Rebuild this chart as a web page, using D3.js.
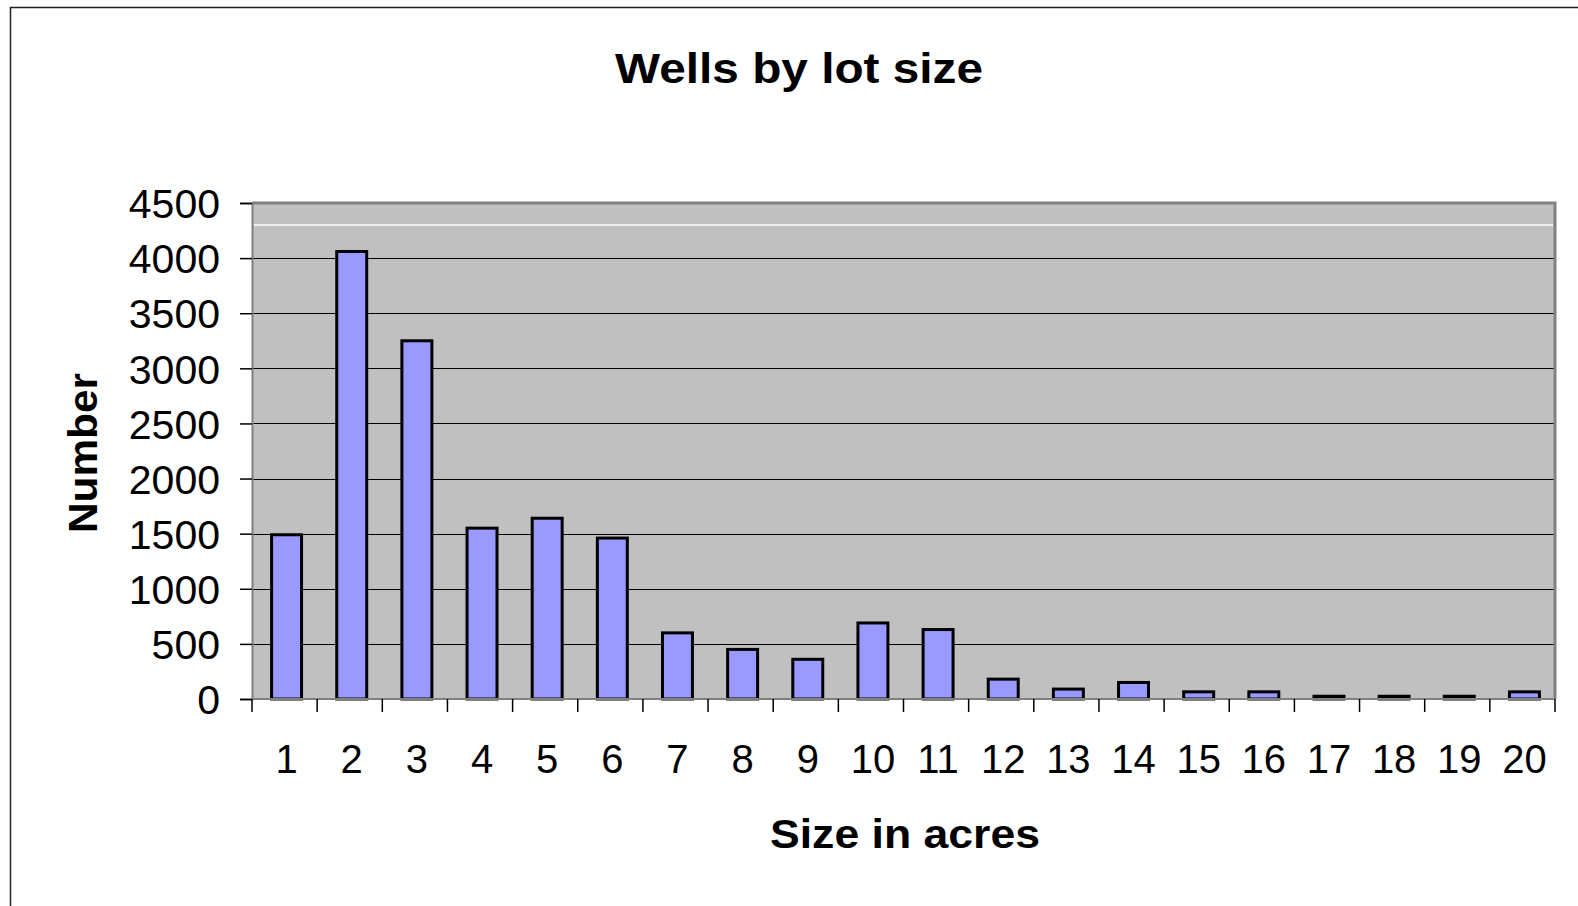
<!DOCTYPE html>
<html>
<head>
<meta charset="utf-8">
<script src="https://cdn.jsdelivr.net/npm/d3@7"></script>
<style>
  body { margin: 0; background: #fff; }
  svg { display: block; font-family: "Liberation Sans", Arial, sans-serif; }
</style>
</head>
<body>
<div id="chart"></div>
<script>
// lot sizes (acres) and number of wells
const sizes = ["1", "2", "3", "4", "5", "6", "7", "8", "9", "10",
               "11", "12", "13", "14", "15", "16", "17", "18", "19", "20"];
const wells = [1490, 4060, 3250, 1550, 1640, 1460, 600, 450, 360, 690,
               630, 180, 90, 150, 65, 65, 25, 25, 25, 65];
const yTicks = [0, 500, 1000, 1500, 2000, 2500, 3000, 3500, 4000, 4500];
const whiteLine = 4300;

const width = 1578;
const height = 906;
const plotLeft = 252, plotRight = 1555, plotTop = 203, plotBottom = 699;

const svg = d3.select("#chart").append("svg")
    .attr("width", width)
    .attr("height", height);

// outer frame (right and bottom run off the page)
svg.append("path")
    .attr("d", `M10.5,${height} V7.5 H${width}`)
    .attr("fill", "none")
    .attr("stroke", "#222")
    .attr("stroke-width", 1.5);

const x = d3.scaleBand()
    .domain(sizes)
    .range([plotLeft, plotRight])
    .paddingInner(0.54)
    .paddingOuter(0.27);

const y = d3.scaleLinear()
    .domain([0, 4500])
    .range([plotBottom, plotTop]);

// plot area
svg.append("rect")
    .attr("x", plotLeft)
    .attr("y", plotTop)
    .attr("width", plotRight - plotLeft)
    .attr("height", plotBottom - plotTop)
    .attr("fill", "#c0c0c0");

// gridlines
svg.append("g")
    .selectAll("line")
    .data(yTicks.filter(d => d > 0 && d < 4500))
    .enter().append("line")
    .attr("x1", plotLeft)
    .attr("x2", plotRight)
    .attr("y1", d => Math.round(y(d)) + 0.5)
    .attr("y2", d => Math.round(y(d)) + 0.5)
    .attr("stroke", "#000")
    .attr("stroke-width", 1);

svg.append("line")
    .attr("x1", plotLeft + 2)
    .attr("x2", plotRight - 2)
    .attr("y1", y(whiteLine))
    .attr("y2", y(whiteLine))
    .attr("stroke", "#fff")
    .attr("stroke-width", 1.5);

// plot border top / right
svg.append("path")
    .attr("d", `M${plotLeft},${plotTop} H${plotRight} V${plotBottom}`)
    .attr("fill", "none")
    .attr("stroke", "#808080")
    .attr("stroke-width", 3);

// bars
svg.append("g")
    .selectAll("rect")
    .data(wells)
    .enter().append("rect")
    .attr("x", (d, i) => x(sizes[i]) + 2)
    .attr("y", d => y(d))
    .attr("width", x.bandwidth())
    .attr("height", d => plotBottom - y(d))
    .attr("fill", "#9999ff")
    .attr("stroke", "#000")
    .attr("stroke-width", 3);

// y axis
const yAxis = svg.append("g")
    .attr("transform", `translate(${plotLeft},0)`)
    .call(d3.axisLeft(y).tickValues(yTicks).tickFormat(d3.format("d"))
        .tickSize(12).tickPadding(20));
yAxis.select(".domain").attr("stroke", "#808080").attr("stroke-width", 2);
yAxis.selectAll(".tick line").attr("stroke", "#000").attr("stroke-width", 1.5);
yAxis.selectAll(".tick text")
    .attr("font-size", 41)
    .attr("fill", "#000")
    .attr("font-family", "Liberation Sans, Arial, sans-serif")
    .attr("dy", "0.36em");

// x axis: ticks at band edges
const edges = sizes.map(s => x(s) - x.step() * x.paddingInner() / 2);
edges[0] = plotLeft;
edges.push(plotRight);
const xAxis = svg.append("g");
xAxis.append("line")
    .attr("x1", plotLeft).attr("x2", plotRight)
    .attr("y1", plotBottom).attr("y2", plotBottom)
    .attr("stroke", "#808080")
    .attr("stroke-width", 2);
xAxis.selectAll("line.tk")
    .data(edges)
    .enter().append("line")
    .attr("class", "tk")
    .attr("x1", d => d).attr("x2", d => d)
    .attr("y1", plotBottom).attr("y2", plotBottom + 13)
    .attr("stroke", "#000")
    .attr("stroke-width", 1.5);
xAxis.selectAll("text")
    .data(sizes)
    .enter().append("text")
    .attr("x", d => x(d) + x.bandwidth() / 2 + 2)
    .attr("y", 773)
    .attr("text-anchor", "middle")
    .attr("font-size", 40)
    .text(d => d);

// titles
svg.append("text")
    .attr("x", 799)
    .attr("y", 83)
    .attr("text-anchor", "middle")
    .attr("font-size", 42)
    .attr("font-weight", "bold")
    .attr("textLength", 368)
    .attr("lengthAdjust", "spacingAndGlyphs")
    .text("Wells by lot size");

svg.append("text")
    .attr("x", 905)
    .attr("y", 848)
    .attr("text-anchor", "middle")
    .attr("font-size", 41)
    .attr("font-weight", "bold")
    .attr("textLength", 270)
    .attr("lengthAdjust", "spacingAndGlyphs")
    .text("Size in acres");

svg.append("text")
    .attr("transform", "translate(97,453) rotate(-90)")
    .attr("text-anchor", "middle")
    .attr("font-size", 41)
    .attr("font-weight", "bold")
    .attr("textLength", 160)
    .attr("lengthAdjust", "spacingAndGlyphs")
    .text("Number");
</script>
</body>
</html>
